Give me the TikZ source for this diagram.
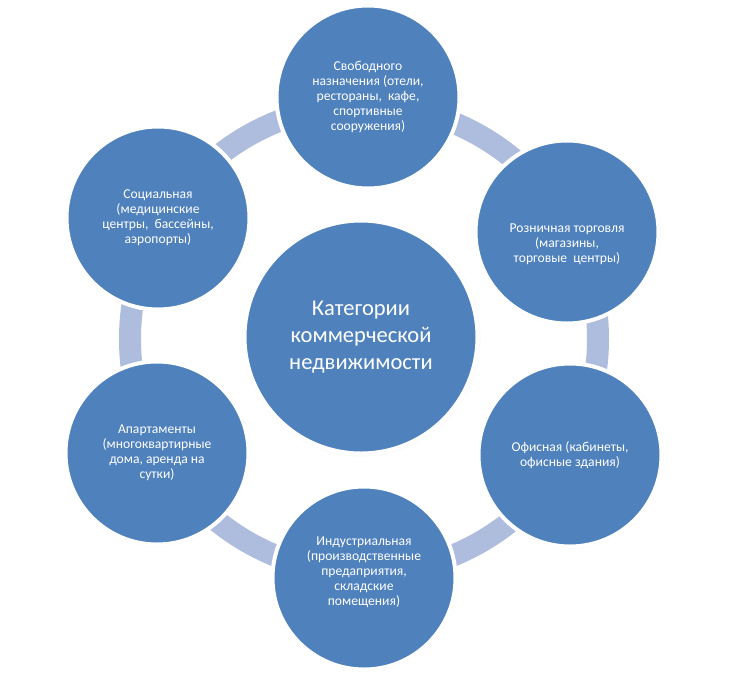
\documentclass[tikz,border=0pt]{standalone}
\usepackage{fontspec}
\setmainfont{Carlito}
\usetikzlibrary{shadows}
\definecolor{circfill}{HTML}{4F81BD}
\definecolor{ringcol}{HTML}{AEBDDE}
\tikzset{
  outer/.style={circle, fill=circfill, draw=white, line width=4pt,
    minimum size=183pt, inner sep=0pt, text=white, align=center,
    circular drop shadow={shadow scale=1.03, opacity=0.25, shadow xshift=0pt, shadow yshift=0pt}},
  centre/.style={outer, minimum size=233pt, font=\fontsize{22.5}{27}\selectfont},
  lbl/.style={text=white, align=center, font=\fontsize{13.6}{14.9}\selectfont, inner sep=0pt}
}
\begin{document}
\begin{tikzpicture}[x=1pt,y=-1pt]
\path[use as bounding box, fill=white] (0,0) rectangle (750,673);
\coordinate (rc) at (364,339);
\draw[ringcol, line width=22pt] (rc) circle (234pt);
\node[outer] (top) at (368,97) {};
\node[lbl] (toplbl) at (top) {Свободного\\назначения (отели,\\рестораны,~ кафе,\\спортивные\\сооружения)};
\node[outer] (soc) at (158,218) {};
\node[lbl] (soclbl) at (soc) {Социальная\\(медицинские\\центры,~ бассейны,\\аэропорты)};
\node[outer] (ret) at (567,232) {};
\node[lbl] (retlbl) at ([yshift=-12pt]ret) {Розничная торговля\\(магазины,\\торговые~ центры)};
\node[outer] (apt) at (157,453) {};
\node[lbl] (aptlbl) at (apt) {Апартаменты\\(многоквартирные\\дома, аренда на\\сутки)};
\node[outer] (off) at (570,455) {};
\node[lbl] (offlbl) at (off) {Офисная (кабинеты,\\офисные здания)};
\node[outer] (bot) at (364,578) {};
\node[lbl] (botlbl) at ([yshift=6pt]bot) {Индустриальная\\(производственные\\предаприятия,\\складские\\помещения)};
\node[centre] (cen) at (361,337) {Категории\\коммерческой\\недвижимости};
\end{tikzpicture}
\end{document}
